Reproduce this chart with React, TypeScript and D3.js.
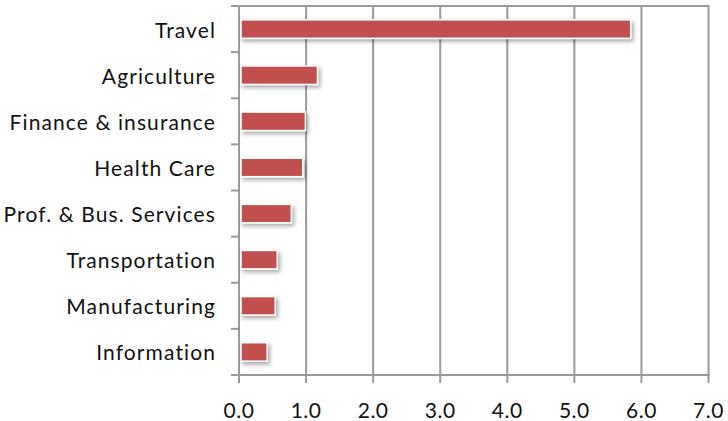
import React from "react";
import * as d3 from "d3";

const categories = [
  "Travel",
  "Agriculture",
  "Finance & insurance",
  "Health Care",
  "Prof. & Bus. Services",
  "Transportation",
  "Manufacturing",
  "Information",
];
const values = [5.84, 1.17, 0.99, 0.95, 0.78, 0.57, 0.54, 0.42];
const xTicks = [0, 1, 2, 3, 4, 5, 6, 7];

export default function App() {
  const W = 728, H = 421;
  const left = 239, right = 708.5, top = 6, bottom = 375;
  const x = d3.scaleLinear().domain([0, 7]).range([left, right]);
  const y = d3.scaleBand().domain(categories).range([top, bottom]).paddingInner(0.6).paddingOuter(0.3);
  const yb = d3.scaleBand().domain(categories).range([top, bottom]);
  const grid = "#9a9a9a";
  const font = "Lato, 'Open Sans', sans-serif";
  return (
    <svg width={W} height={H} style={{ position: "absolute", left: 0, top: 0, background: "#fff" }}>
      <defs>
        <filter id="sh" x="-10%" y="-50%" width="130%" height="250%">
          <feDropShadow dx="2" dy="2.5" stdDeviation="2" floodColor="#000" floodOpacity="0.35" />
        </filter>
      </defs>
      {xTicks.map((t) => (
        <line key={"g" + t} x1={x(t)} x2={x(t)} y1={top} y2={bottom + 8} stroke={grid} strokeWidth={2} />
      ))}
      <line x1={left - 8} x2={right + 1} y1={top} y2={top} stroke={grid} strokeWidth={2} />
      <line x1={left - 8} x2={right + 1} y1={bottom} y2={bottom} stroke={grid} strokeWidth={2} />
      {categories.map((c, i) => (
        <line key={"t" + i} x1={left - 8} x2={left} y1={yb(c)!} y2={yb(c)!} stroke={grid} strokeWidth={2} />
      ))}
      {categories.map((c, i) => (
        <rect
          key={"b" + i}
          x={x(0) + 2}
          y={y(c)!}
          width={x(values[i]) - x(0) - 2}
          height={y.bandwidth()}
          fill="#C0504D"
          stroke="#fff"
          strokeWidth={1.5}
          filter="url(#sh)"
        />
      ))}
      {categories.map((c) => (
        <text
          key={"l" + c}
          x={216}
          y={yb(c)! + yb.bandwidth() / 2}
          textAnchor="end"
          dominantBaseline="central"
          fontFamily={font}
          fontSize={21}
          letterSpacing={1.1}
          fill="#111"
        >
          {c}
        </text>
      ))}
      {xTicks.map((t) => (
        <text
          key={"x" + t}
          x={x(t)}
          y={409}
          textAnchor="middle"
          dominantBaseline="central"
          fontFamily={font}
          fontSize={21}
          letterSpacing={0.5}
          fill="#111"
        >
          {t.toFixed(1)}
        </text>
      ))}
    </svg>
  );
}
